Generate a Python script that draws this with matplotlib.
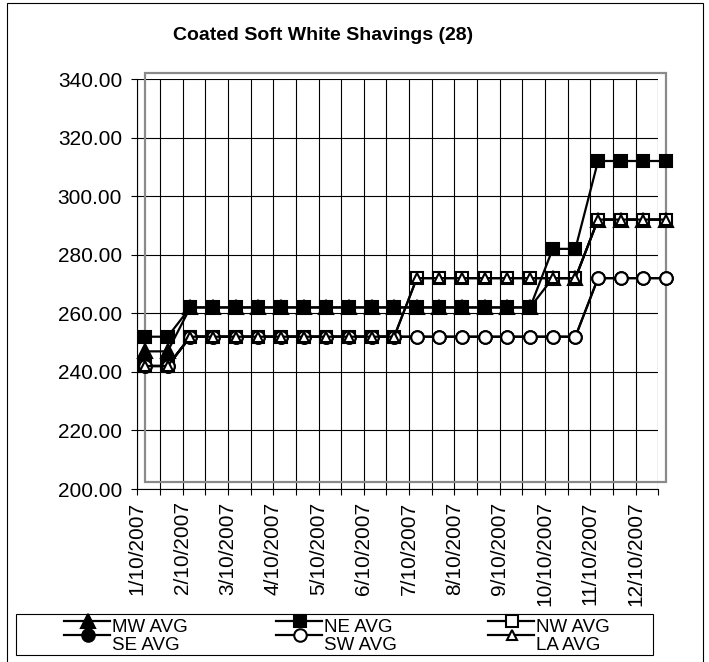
import matplotlib
matplotlib.use('Agg')
import matplotlib.pyplot as plt
from matplotlib.lines import Line2D
from matplotlib.patches import Rectangle

plt.rcParams['font.family'] = ['Liberation Sans', 'DejaVu Sans']

# ---------------- data ----------------
title = 'Coated Soft White Shavings (28)'
date_labels = ['1/10/2007', '2/10/2007', '3/10/2007', '4/10/2007', '5/10/2007',
               '6/10/2007', '7/10/2007', '8/10/2007', '9/10/2007', '10/10/2007',
               '11/10/2007', '12/10/2007']
mw_avg = [247, 247, 262, 262, 262, 262, 262, 262, 262, 262, 262, 262,
          262, 262, 262, 262, 262, 262, 272, 272, 292, 292, 292, 292]
ne_avg = [252, 252, 262, 262, 262, 262, 262, 262, 262, 262, 262, 262,
          262, 262, 262, 262, 262, 262, 282, 282, 312, 312, 312, 312]
nw_avg = [242, 242, 252, 252, 252, 252, 252, 252, 252, 252, 252, 252,
          272, 272, 272, 272, 272, 272, 272, 272, 292, 292, 292, 292]
se_avg = [242, 242, 252, 252, 252, 252, 252, 252, 252, 252, 252, 252,
          252, 252, 252, 252, 252, 252, 252, 252, 272, 272, 272, 272]
sw_avg = [242, 242, 252, 252, 252, 252, 252, 252, 252, 252, 252, 252,
          252, 252, 252, 252, 252, 252, 252, 252, 272, 272, 272, 272]
la_avg = [242, 242, 252, 252, 252, 252, 252, 252, 252, 252, 252, 252,
          272, 272, 272, 272, 272, 272, 272, 272, 292, 292, 292, 292]
series_names = ['MW AVG', 'NE AVG', 'NW AVG', 'SE AVG', 'SW AVG', 'LA AVG']
series_values = [mw_avg, ne_avg, nw_avg, se_avg, sw_avg, la_avg]
y_ticks = [200, 220, 240, 260, 280, 300, 320, 340]

# ---------------- styles ----------------
styles = [
    dict(marker='^', mfc='black', ms=9.5),
    dict(marker='s', mfc='black', ms=8.5),
    dict(marker='s', mfc='white', ms=8.5),
    dict(marker='o', mfc='black', ms=9),
    dict(marker='o', mfc='white', ms=9),
    dict(marker='^', mfc='white', ms=7.5),
]

W, H = 709, 662
fig = plt.figure(figsize=(W / 100, H / 100), dpi=100)


def fx(p):
    return p / W


def fy(p):
    return 1 - p / H


AX_L, AX_R, AX_T, AX_B = 137.3, 658.3, 79, 489
ax = fig.add_axes([fx(AX_L), fy(AX_B), fx(AX_R) - fx(AX_L), fy(AX_T) - fy(AX_B)])
n = len(mw_avg)
n_cat = n - 1
ax.set_xlim(0, n_cat)
ax.set_ylim(y_ticks[0], y_ticks[-1])

offset = 0.34
xs = [i + offset for i in range(n)]

# plot-area grey border
ax.add_patch(Rectangle((offset, 202.4), n_cat, 139.5, transform=ax.transData,
                       fill=False, edgecolor='#8a8a8a', lw=1.6, clip_on=False, zorder=1.5))

ax.set_axisbelow(True)
ax.grid(True, color='black', lw=0.8)

for vals, st in zip(series_values, styles):
    ax.plot(xs, vals, color='black', lw=1.6, marker=st['marker'], ms=st['ms'],
            mfc=st['mfc'], mec='black', mew=1.5, clip_on=False, zorder=3)

for s in ['top', 'right']:
    ax.spines[s].set_visible(False)
for s in ['left', 'bottom']:
    ax.spines[s].set_linewidth(0.8)
    ax.spines[s].set_color('black')

ax.set_yticks(y_ticks)
ax.set_yticklabels([f'{v:.2f}' for v in y_ticks])
ax.set_xticks(range(n))
xl = []
for i in range(n):
    xl.append(date_labels[i // 2] if i % 2 == 0 else '')
ax.set_xticklabels(xl, rotation=90, ha='center', va='top')
ax.tick_params(axis='both', direction='out', length=4, width=0.8, labelsize=15, colors='black')
ax.tick_params(axis='x', pad=5)
ax.tick_params(axis='y', pad=7)

fig.text(fx(323), fy(35), title, ha='center', va='center', fontsize=14, fontweight='bold')

# outer chart border
fig.add_artist(Rectangle((fx(7), fy(666)), fx(703) - fx(7), fy(3) - fy(666),
                         transform=fig.transFigure, fill=False, ec='black', lw=0.8))

# legend
fig.add_artist(Rectangle((fx(16), fy(655)), fx(653) - fx(16), fy(614) - fy(655),
                         transform=fig.transFigure, fill=False, ec='black', lw=0.8))
col_x = [88, 300, 512]
row_line_y = [621, 635]
row_text_y = [627, 645]
for idx, (name, st) in enumerate(zip(series_names, styles)):
    r, c = (0, idx) if idx < 3 else (1, idx - 3)
    mx = col_x[c]
    ly = row_line_y[r]
    fig.add_artist(Line2D([fx(mx - 24), fx(mx + 22)], [fy(ly), fy(ly)],
                          transform=fig.transFigure, color='black', lw=1.6))
    fig.add_artist(Line2D([fx(mx)], [fy(ly)], transform=fig.transFigure, ls='none',
                          marker=st['marker'], ms=st['ms'], mfc=st['mfc'], mec='black', mew=1.5))
    fig.text(fx(mx + 24), fy(row_text_y[r]), name, ha='left', va='center', fontsize=13.5)

fig.savefig('out.png', dpi=100)
